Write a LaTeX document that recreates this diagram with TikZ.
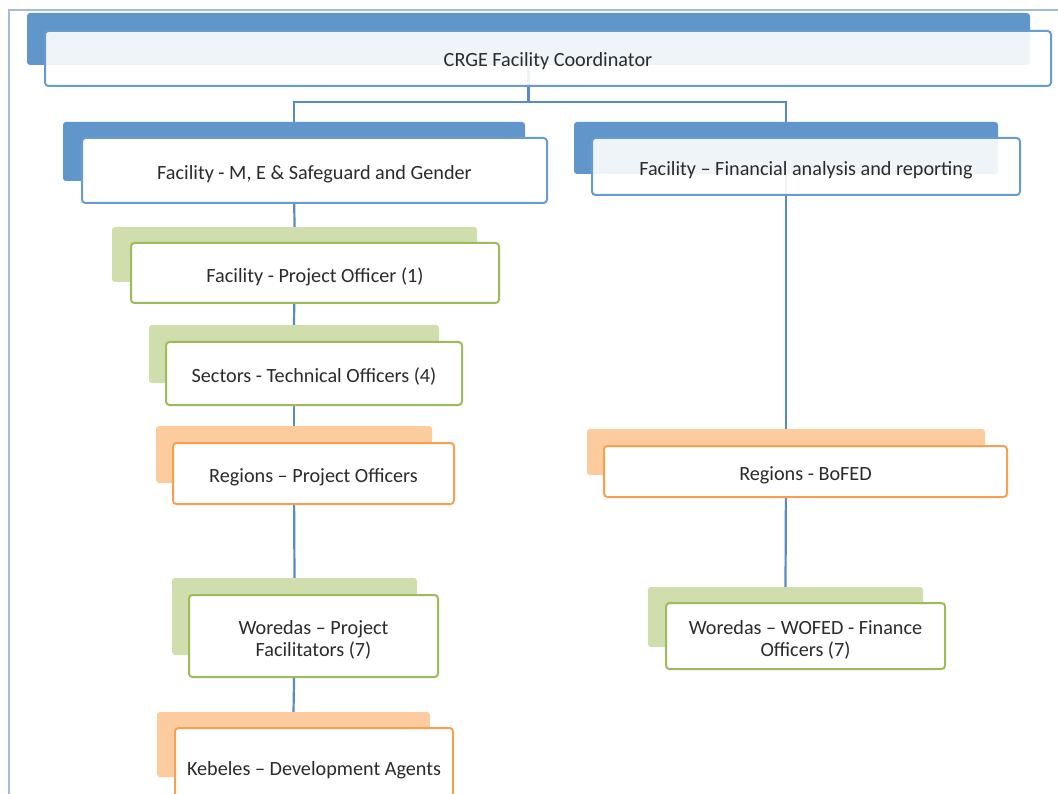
\documentclass[tikz,border=0pt]{standalone}
\usepackage{fontspec}
\setmainfont{Carlito}
\definecolor{bluebk}{HTML}{6096C9}
\definecolor{blueln}{HTML}{6A9BD0}
\definecolor{greenbk}{HTML}{CFDEAC}
\definecolor{greenln}{HTML}{9CBB5A}
\definecolor{orangebk}{HTML}{FCCB9E}
\definecolor{orangeln}{HTML}{F8A050}
\definecolor{connc}{HTML}{5A8AC2}
\definecolor{framec}{HTML}{A6BBD6}
\definecolor{txt}{HTML}{2B2B2B}
\begin{document}
\begin{tikzpicture}[x=1pt,y=-1pt,
  back/.style={rectangle,rounded corners=3pt,inner sep=0pt,draw=none},
  front/.style={rectangle,rounded corners=3.5pt,inner sep=0pt,line width=2pt,fill=white},
  lbl/.style={inner sep=0pt,text=txt,align=center,font=\fontsize{20.2}{22.5}\selectfont},
  bb/.style={back,fill=bluebk},
  gb/.style={back,fill=greenbk},
  ob/.style={back,fill=orangebk},
  bf/.style={front,draw=blueln},
  gf/.style={front,draw=greenln},
  of/.style={front,draw=orangeln},
  seethru/.style={fill opacity=0.9},
  conn/.style={draw=connc,line width=2.2pt}]
\useasboundingbox (0,0) rectangle (1058,794);
\fill[white] (0,0) rectangle (1058,794);
\draw[framec,line width=1.5pt] (9,794) -- (9,10) -- (1058,10);
% back shapes
\node[bb,minimum width=1003pt,minimum height=52pt] (crgeB) at (528.5,39) {};
\node[bb,minimum width=462pt,minimum height=59pt] (meB) at (294,151.5) {};
\node[bb,minimum width=424pt,minimum height=52pt] (finB) at (786,148) {};
\node[gb,minimum width=365pt,minimum height=55pt] (poB) at (294.5,254.5) {};
\node[gb,minimum width=290pt,minimum height=58pt] (secB) at (294,354) {};
\node[ob,minimum width=276pt,minimum height=57pt] (regB) at (294,454.5) {};
\node[ob,minimum width=398pt,minimum height=46pt] (bofB) at (786,452) {};
\node[gb,minimum width=245pt,minimum height=77pt] (worB) at (294.5,616.5) {};
\node[ob,minimum width=273pt,minimum height=65pt] (kebB) at (293.5,744.5) {};
\node[gb,minimum width=275pt,minimum height=60pt] (wofB) at (785.5,617) {};
% connectors
\coordinate (j) at (528.5,102);
\draw[conn] (crgeB.south) -- (j);
\draw[conn] (j) -| (meB.north);
\draw[conn] (j) -| (finB.north);
\draw[conn] (meB.south) -- (poB.north);
\draw[conn] (poB.south) -- (secB.north);
\draw[conn] (secB.south) -- (regB.north);
\draw[conn] (regB.south) -- (worB.north);
\draw[conn] (worB.south) -- (kebB.north);
\draw[conn] (finB.south) -- (bofB.north);
\draw[conn] (bofB.south) -- (wofB.north);
% front boxes
\node[bf,seethru,minimum width=1006pt,minimum height=55pt] (crge) at (548,58.5) {};
\node[bf,minimum width=465pt,minimum height=65pt] (me) at (314.5,170.5) {};
\node[bf,seethru,minimum width=428pt,minimum height=57pt] (fin) at (806,166.5) {};
\node[gf,minimum width=368pt,minimum height=60pt] (po) at (315,273) {};
\node[gf,minimum width=296pt,minimum height=63pt] (sec) at (314,373.5) {};
\node[of,minimum width=281pt,minimum height=61pt] (reg) at (313.5,473.5) {};
\node[of,minimum width=403pt,minimum height=51pt] (bof) at (805.5,471.5) {};
\node[gf,minimum width=249pt,minimum height=82pt] (wor) at (313.5,636) {};
\node[of,minimum width=278pt,minimum height=78pt] (keb) at (314,767) {};
\node[gf,minimum width=279pt,minimum height=66pt] (wof) at (805.5,636) {};
% texts
\node[lbl] (crgeT) at ([yshift=-3pt]crge.center) {CRGE Facility Coordinator};
\node[lbl] (meT) at ([yshift=-3.5pt]me.center) {Facility - M, E \& Safeguard and Gender};
\node[lbl] (finT) at ([yshift=-4pt]fin.center) {Facility -- Financial analysis and reporting};
\node[lbl] (poT) at ([yshift=-3.5pt]po.center) {Facility - Project Officer (1)};
\node[lbl] (secT) at ([yshift=-3.5pt]sec.center) {Sectors - Technical Officers (4)};
\node[lbl] (regT) at ([yshift=-3.5pt]reg.center) {Regions -- Project Officers};
\node[lbl] (bofT) at ([yshift=-3.5pt]bof.center) {Regions - BoFED};
\node[lbl] (worT) at ([yshift=-4pt]wor.center) {Woredas -- Project\\Facilitators (7)};
\node[lbl] (kebT) at ([yshift=-3.5pt]keb.center) {Kebeles -- Development Agents};
\node[lbl] (wofT) at ([yshift=-4pt]wof.center) {Woredas -- WOFED - Finance\\Officers (7)};
\end{tikzpicture}
\end{document}
